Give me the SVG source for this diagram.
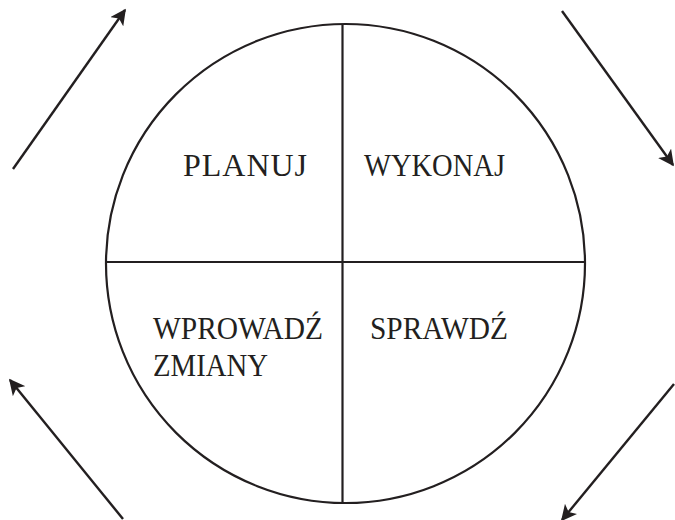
<svg xmlns="http://www.w3.org/2000/svg" width="675" height="520" viewBox="0 0 675 520">
<defs>
<marker id="ah" viewBox="0 0 10 10" refX="9" refY="5" markerWidth="16" markerHeight="16" markerUnits="userSpaceOnUse" orient="auto">
<path d="M0,0 L10,5 L0,10 L2.5,5 Z" fill="#231f20"/>
</marker>
<style>
.ln{stroke:#231f20;stroke-width:2.2;fill:none}
.ar{stroke:#231f20;stroke-width:2.4;fill:none;marker-end:url(#ah)}
.t{font-family:"Liberation Serif","DejaVu Serif",serif;font-size:32px;fill:#231f20}
</style>
</defs>
<rect width="675" height="520" fill="#fff"/>
<g id="wheel">
<circle class="ln" cx="345.5" cy="263.5" r="239.5"/>
<line class="ln" x1="342.5" y1="24" x2="342.5" y2="503"/>
<line class="ln" x1="106" y1="262" x2="585" y2="262"/>
</g>
<g id="planuj"><text class="t" x="183" y="176" textLength="124" lengthAdjust="spacing">PLANUJ</text></g>
<g id="wykonaj"><text class="t" x="364" y="176" textLength="141" lengthAdjust="spacingAndGlyphs">WYKONAJ</text></g>
<g id="wprowadz"><text class="t" x="153" y="339" textLength="170" lengthAdjust="spacingAndGlyphs">WPROWADŹ</text>
<text class="t" x="153" y="376" textLength="115" lengthAdjust="spacingAndGlyphs">ZMIANY</text></g>
<g id="sprawdz"><text class="t" x="370" y="339" textLength="138" lengthAdjust="spacingAndGlyphs">SPRAWDŹ</text></g>
<g id="connectors">
<line class="ar" x1="13" y1="169" x2="125" y2="10"/>
<line class="ar" x1="562" y1="11" x2="673" y2="165"/>
<line class="ar" x1="674" y1="384" x2="562" y2="520"/>
<line class="ar" x1="123" y1="519" x2="10" y2="380"/>
</g>
</svg>
